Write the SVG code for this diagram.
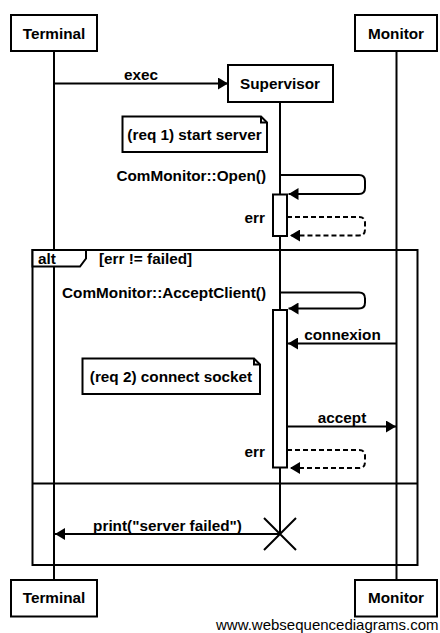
<svg xmlns="http://www.w3.org/2000/svg" width="440" height="633" viewBox="0 0 440 633">
<style>
text{font-family:"Liberation Sans",Arial,sans-serif;font-size:15.3px;font-weight:bold;fill:#000}
.c{text-anchor:middle}
.e{text-anchor:end}
.box{fill:#fff;stroke:#000;stroke-width:2}
.ln{fill:none;stroke:#000;stroke-width:2}
.dash{fill:none;stroke:#000;stroke-width:2;stroke-dasharray:5,3}
.wm{font-weight:normal;font-size:15px}
</style>
<defs>
<marker id="ah" viewBox="0 0 10 12" refX="10" refY="6" markerWidth="10" markerHeight="12" markerUnits="userSpaceOnUse" orient="auto">
<path d="M0,0 L10,6 L0,12 Z" fill="#000"/>
</marker>
</defs>
<rect width="440" height="633" fill="#fff"/>
<g id="lifelines">
<line class="ln" x1="54" y1="51" x2="54" y2="580"/>
<line class="ln" x1="396.5" y1="51" x2="396.5" y2="580"/>
<line class="ln" x1="280" y1="102" x2="280" y2="534"/>
</g>
<g id="alt-frame">
<rect class="ln" x="32.5" y="250" width="385" height="315"/>
<path class="box" d="M32.5,250 H86 V258.5 L80,266.5 H32.5 Z"/>
<text x="38" y="264">alt</text>
<text x="99" y="264">[err != failed]</text>
<line class="ln" x1="32.5" y1="483.5" x2="417.5" y2="483.5"/>
</g>
<g id="terminal-top">
<rect class="box" x="11" y="15" width="86" height="36"/>
<text class="c" x="54" y="39">Terminal</text>
</g>
<g id="monitor-top">
<rect class="box" x="355" y="15" width="82" height="36"/>
<text class="c" x="396" y="39">Monitor</text>
</g>
<g id="supervisor">
<rect class="box" x="228" y="65" width="105" height="37"/>
<text class="c" x="280" y="89">Supervisor</text>
</g>
<g id="activation1">
<rect class="box" x="273" y="194.5" width="14" height="41.5"/>
</g>
<g id="activation2">
<rect class="box" x="273" y="310" width="14" height="157.5"/>
</g>
<g id="note1">
<path class="box" d="M122.5,116.5 H261 L267,122.5 V152 H122.5 Z"/>
<path class="ln" d="M261,116.5 V122.5 H267"/>
<text class="c" x="194.5" y="139.5">(req 1) start server</text>
</g>
<g id="note2">
<path class="box" d="M82.5,358.5 H254 L260,364.5 V394 H82.5 Z"/>
<path class="ln" d="M254,358.5 V364.5 H260"/>
<text class="c" x="171" y="382">(req 2) connect socket</text>
</g>
<g id="connectors">
<path class="ln" d="M54,83.5 H228" marker-end="url(#ah)"/>
<text class="c" x="141" y="80">exec</text>
<path class="ln" d="M280,175 H359 Q365,175 365,181 V188 Q365,194 359,194 H288.5" marker-end="url(#ah)"/>
<text class="e" x="266" y="181">ComMonitor::Open()</text>
<path class="dash" d="M287,217 H359 Q365,217 365,223 V229.5 Q365,235.5 359,235.5 H290" marker-end="url(#ah)"/>
<text class="e" x="265" y="223">err</text>
<path class="ln" d="M280,292.5 H359 Q365,292.5 365,298.5 V302.5 Q365,308.5 359,308.5 H288.5" marker-end="url(#ah)"/>
<text class="e" x="266" y="298">ComMonitor::AcceptClient()</text>
<path class="ln" d="M396.5,343.5 H288" marker-end="url(#ah)"/>
<text class="c" x="342.5" y="340">connexion</text>
<path class="ln" d="M287,426.5 H396" marker-end="url(#ah)"/>
<text class="c" x="342" y="423">accept</text>
<path class="dash" d="M287,450 H359 Q365,450 365,456 V462 Q365,468 359,468 H290" marker-end="url(#ah)"/>
<text class="e" x="265" y="456.5">err</text>
<path class="ln" d="M280,534 H55" marker-end="url(#ah)"/>
<text class="c" x="167.5" y="531">print("server failed")</text>
<path class="ln" d="M264,518 L296,550 M296,518 L264,550"/>
</g>
<g id="terminal-bottom">
<rect class="box" x="11" y="580" width="86" height="36.5"/>
<text class="c" x="54" y="603">Terminal</text>
</g>
<g id="monitor-bottom">
<rect class="box" x="355" y="580" width="82" height="36.5"/>
<text class="c" x="396" y="603">Monitor</text>
</g>
<text class="wm" x="216" y="630">www.websequencediagrams.com</text>
</svg>
